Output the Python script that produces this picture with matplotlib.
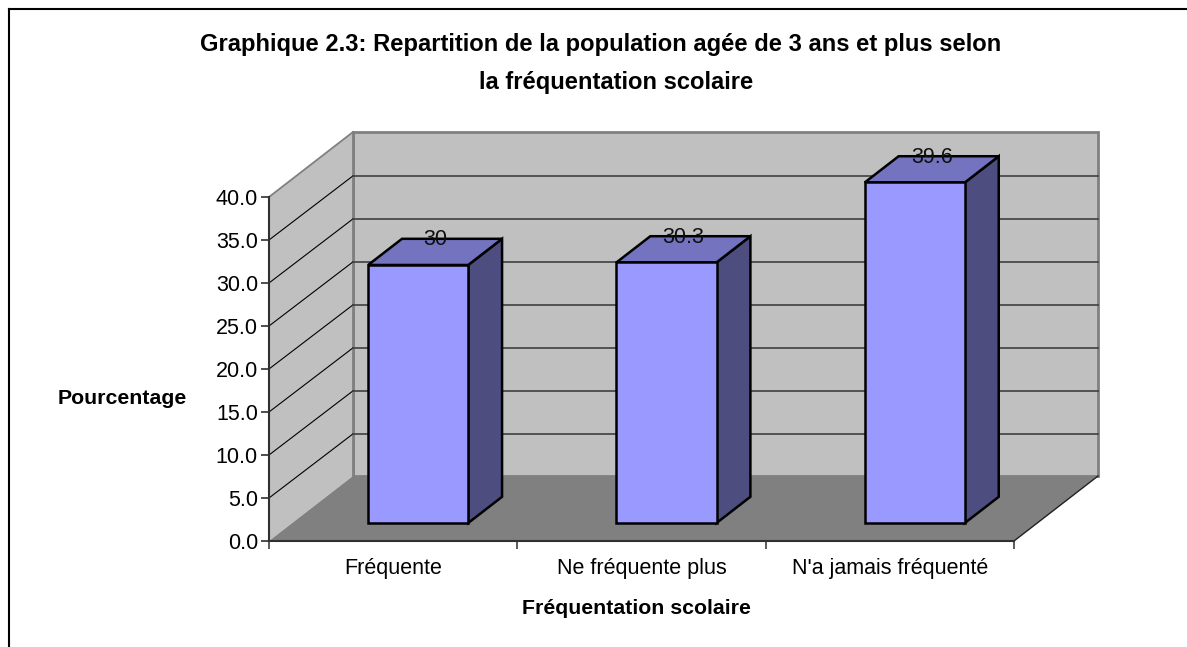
import matplotlib
matplotlib.use('Agg')
import matplotlib.pyplot as plt
from matplotlib.lines import Line2D
from matplotlib.patches import Polygon

plt.rcParams['font.family'] = ['Liberation Sans', 'DejaVu Sans']

# Data
categories = ['Fréquente', 'Ne fréquente plus', "N'a jamais fréquenté"]
values = [30, 30.3, 39.6]
value_labels = ['30', '30.3', '39.6']
y_ticks = [0, 5, 10, 15, 20, 25, 30, 35, 40]

W, H = 1187, 647
fig = plt.figure(figsize=(W / 100, H / 100), dpi=100)

# Axes = front plane of the Excel 3D box
left, right, bottom, top = 269, 1014, 541, 197
ax = fig.add_axes([left / W, 1 - bottom / H, (right - left) / W, (bottom - top) / H])
ax.set_xlim(0, 3)
ax.set_ylim(0, 40)
ax.patch.set_visible(False)

# Oblique depth of the box, in data units
depth_x = 84 / 248.33
depth_y = 65 / 8.6
near, far = 0.277, 0.68
bar_width = 0.403
bar_shift = 0.007


def add_poly(pts, fc, ec='none', lw=0, z=1):
    ax.add_patch(Polygon(pts, closed=True, facecolor=fc, edgecolor=ec, linewidth=lw,
                         zorder=z, clip_on=False, joinstyle='miter'))


# Walls and floor
add_poly([(depth_x, depth_y), (3 + depth_x, depth_y), (3 + depth_x, 40 + depth_y), (depth_x, 40 + depth_y)],
         '#C0C0C0', '#808080', 2.0)
add_poly([(0, 0), (depth_x, depth_y), (depth_x, 40 + depth_y), (0, 40)], '#C0C0C0')
add_poly([(0, 0), (3, 0), (3 + depth_x, depth_y), (depth_x, depth_y)], '#808080')
ax.plot([depth_x, depth_x], [depth_y, 40 + depth_y], color='#808080', lw=2, zorder=2, clip_on=False)
ax.plot([0, depth_x], [40, 40 + depth_y], color='#808080', lw=1.3, zorder=2, clip_on=False)
ax.plot([3, 3 + depth_x], [0, depth_y], color='#202020', lw=1, zorder=2, clip_on=False)

# Gridlines
for t in y_ticks[1:-1]:
    ax.plot([0, depth_x], [t, t + depth_y - 0.1], color='black', lw=0.8, zorder=2, clip_on=False)
    ax.plot([depth_x, 3 + depth_x], [t + depth_y - 0.1, t + depth_y - 0.1], color='#404040', lw=1.2, zorder=2, clip_on=False)

# Bars
for i, v in enumerate(values):
    x0 = i + 0.5 - bar_width / 2 + near * depth_x + bar_shift
    x1 = x0 + bar_width
    y0 = near * depth_y
    y1 = y0 + v
    dx = (far - near) * depth_x
    dy = (far - near) * depth_y
    ax.bar(x0, v, width=bar_width, bottom=y0, align='edge', color='#9999FF',
           edgecolor='black', linewidth=1.8, zorder=5, clip_on=False)
    add_poly([(x1, y0), (x1 + dx, y0 + dy), (x1 + dx, y1 + dy), (x1, y1)], '#4D4D80', 'black', 1.8, 4)
    add_poly([(x0, y1), (x1, y1), (x1 + dx, y1 + dy), (x0 + dx, y1 + dy)], '#7373BF', 'black', 1.8, 4)
    ax.text(i + 0.5 + (near + far) / 2 * depth_x + bar_shift, v + far * depth_y - 0.1, value_labels[i],
            ha='center', va='center', fontsize=15.5, color='#101010', zorder=6, clip_on=False)

# Axes
for s in ['top', 'right']:
    ax.spines[s].set_visible(False)
for s in ['left', 'bottom']:
    ax.spines[s].set_color('#303030')
    ax.spines[s].set_linewidth(1.5)
    ax.spines[s].set_zorder(3)

ax.set_yticks(y_ticks)
ax.set_yticklabels(['%.1f' % t for t in y_ticks], fontsize=15.5)
ax.set_xticks([0, 1, 2, 3])
ax.set_xticklabels([])
ax.set_xticks([0.5, 1.5, 2.5], minor=True)
ax.set_xticklabels(categories, minor=True, fontsize=15.5)
ax.tick_params(axis='y', length=6, width=1.2, color='#303030', pad=2)
ax.tick_params(axis='x', which='major', length=6, width=1.2, color='#404040')
ax.tick_params(axis='x', which='minor', length=0, pad=12)

# Titles
fig.text(601 / W, 1 - 45 / H, 'Graphique 2.3: Repartition de la population agée de 3 ans et plus selon',
         ha='center', va='center', fontsize=17.1, fontweight='bold')
fig.text(616 / W, 1 - 83 / H, 'la fréquentation scolaire',
         ha='center', va='center', fontsize=17.1, fontweight='bold')
fig.text(122 / W, 1 - 399 / H, 'Pourcentage', ha='center', va='center', fontsize=15.3, fontweight='bold')
fig.text(636 / W, 1 - 609 / H, 'Fréquentation scolaire', ha='center', va='center', fontsize=15.3, fontweight='bold')

# Outer chart border
fig.add_artist(Line2D([9.5 / W, 9.5 / W], [0, 1 - 9 / H], color='black', lw=1.5))
fig.add_artist(Line2D([9.5 / W, 1], [1 - 9 / H, 1 - 9 / H], color='black', lw=1.5))

plt.savefig('out.png', dpi=100)
